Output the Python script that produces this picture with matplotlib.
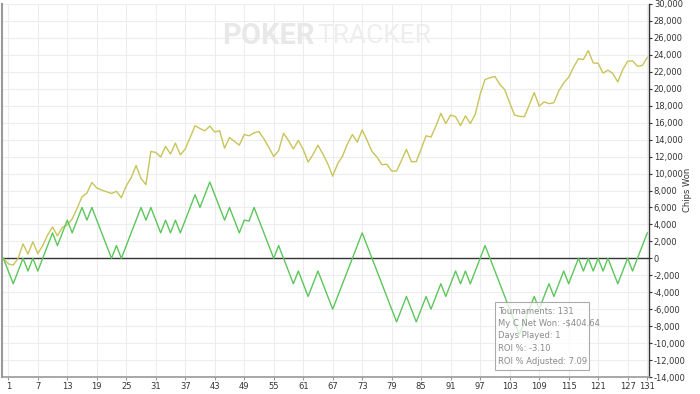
import matplotlib
matplotlib.use("Agg")
import matplotlib.pyplot as plt

# Tournament number (0 = starting point)
tournaments = list(range(0, 132))

# Net chips won after each tournament (green line)
chipsWon = [
    0, -1500, -3000, -1500, 0, -1500, 0, -1500, 0, 1500,
    3000, 1500, 3000, 4500, 3000, 4500, 6000, 4500, 6000, 4500,
    3000, 1500, 0, 1500, 0, 1500, 3000, 4500, 6000, 4500,
    6000, 4500, 3000, 4500, 3000, 4500, 3000, 4500, 6000, 7500,
    6000, 7500, 9000, 7500, 6000, 4500, 6000, 4500, 3000, 4500,
    4400, 6000, 4500, 3000, 1500, 0, 1500, 0, -1500, -3000,
    -1500, -3000, -4500, -3000, -1500, -3000, -4500, -6000, -4500, -3000,
    -1500, 0, 1500, 3000, 1500, 0, -1500, -3000, -4500, -6000,
    -7500, -6000, -4500, -6000, -7500, -6000, -4500, -6000, -4500, -3000,
    -4500, -3000, -1500, -3000, -1500, -3000, -1500, 0, 1500, 0,
    -1500, -3000, -4500, -6000, -7500, -9000, -7500, -6000, -4500, -6000,
    -4500, -3000, -4500, -3000, -1500, -3000, -1500, 0, -1500, 0,
    -1500, 0, -1500, 0, -1500, -3000, -1500, 0, -1500, 0,
    1500, 3000,
]

# All-in EV adjusted chips (yellow line)
chipsAdjusted = [
    0, -650, -800, 0, 1700, 500, 1950, 550, 1500, 2750,
    3700, 2650, 3650, 3950, 4650, 5900, 7250, 7700, 8950, 8300,
    8050, 7850, 7650, 7900, 7150, 8550, 9500, 10950, 9400, 8700,
    12600, 12500, 11950, 13200, 12300, 13600, 12200, 12900, 14250, 15650,
    15300, 15050, 15600, 14900, 15050, 13000, 14250, 13800, 13350, 14600,
    14450, 14800, 14950, 14100, 13100, 12000, 12700, 14750, 13900, 12900,
    13900, 12850, 11350, 12250, 13350, 12300, 11150, 9700, 11150, 12050,
    13500, 14600, 13700, 15150, 13900, 12600, 11950, 11050, 11100, 10300,
    10300, 11550, 12850, 11400, 11400, 12900, 14450, 14300, 15600, 17100,
    15900, 16900, 16700, 15650, 16800, 15900, 17000, 19350, 21100, 21300,
    21450, 20500, 19900, 18350, 16900, 16750, 16700, 18100, 19550, 17950,
    18450, 18250, 18350, 19750, 20700, 21350, 22550, 23550, 23450, 24500,
    23050, 23000, 21850, 22200, 21800, 20800, 22250, 23250, 23300, 22650,
    22750, 23700,
]

xTicks = list(range(1, 131, 6)) + [131]
yTicks = list(range(-14000, 30001, 2000))

summaryLines = [
    "Tournaments: 131",
    "My C Net Won: -$404.64",
    "Days Played: 1",
    "ROI %: -3.10",
    "ROI % Adjusted: 7.09",
]

fig = plt.figure(figsize=(7.0, 3.94), dpi=100)
ax = fig.add_axes([2 / 700, 17 / 394, 647 / 700, 373 / 394])

# Grid and zero line
ax.set_xticks(xTicks)
ax.set_yticks(yTicks)
ax.grid(True, color="#ededed", linewidth=0.8)
ax.set_axisbelow(True)
ax.axhline(0, color="#333333", linewidth=1.0, zorder=2)

# The two lines
ax.plot(tournaments, chipsAdjusted, color="#c9c45a", linewidth=1.0, zorder=3)
ax.plot(tournaments, chipsWon, color="#5cc65c", linewidth=1.0, zorder=4)

ax.set_xlim(-0.28, 131.35)
ax.set_ylim(-14000, 30000)

# Axis styling: values on the right side
ax.yaxis.tick_right()
ax.set_yticklabels(["{:,}".format(v) for v in yTicks])
ax.set_xticklabels([str(v) for v in xTicks])
ax.spines["top"].set_visible(False)
ax.spines["left"].set_color("#999999")
ax.spines["left"].set_linewidth(1.5)
ax.spines["bottom"].set_color("#999999")
ax.spines["bottom"].set_linewidth(1.2)
ax.spines["right"].set_color("#333333")
ax.spines["right"].set_linewidth(1.0)
ax.tick_params(axis="y", direction="out", length=2.5, width=0.8, pad=1,
               colors="#333333", labelsize=6)
ax.tick_params(axis="x", direction="out", length=2.5, width=0.8, pad=1,
               colors="#999999", labelcolor="#333333", labelsize=6)

fig.text(688 / 700, 1 - 190 / 394, "Chips Won", rotation=90, ha="center",
         va="center", fontsize=6, color="#333333")

# Watermark
fig.text(315 / 700, 1 - 36 / 394, "POKER", ha="right", va="center",
         fontsize=21, fontweight="bold", family="Roboto", color="#e8e8e8")
fig.text(317 / 700, 1 - 36 / 394, "TRACKER", ha="left", va="center",
         fontsize=19, family="Roboto", color="#eeeeee")

# Summary box
box = plt.Rectangle((495 / 700, 1 - 370 / 394), 94 / 700, 68 / 394,
                    transform=fig.transFigure, facecolor="white", alpha=0.75,
                    edgecolor="none", zorder=5)
fig.patches.append(box)
border = plt.Rectangle((495 / 700, 1 - 370 / 394), 94 / 700, 68 / 394,
                       transform=fig.transFigure, facecolor="none",
                       edgecolor="#aaaaaa", linewidth=0.8, zorder=6)
fig.patches.append(border)
for i, line in enumerate(summaryLines):
    fig.text(498 / 700, 1 - (311 + i * 12.5) / 394, line, ha="left",
             va="center", fontsize=6, color="#8a8a8a", zorder=7)

fig.savefig("out.png", dpi=100)
